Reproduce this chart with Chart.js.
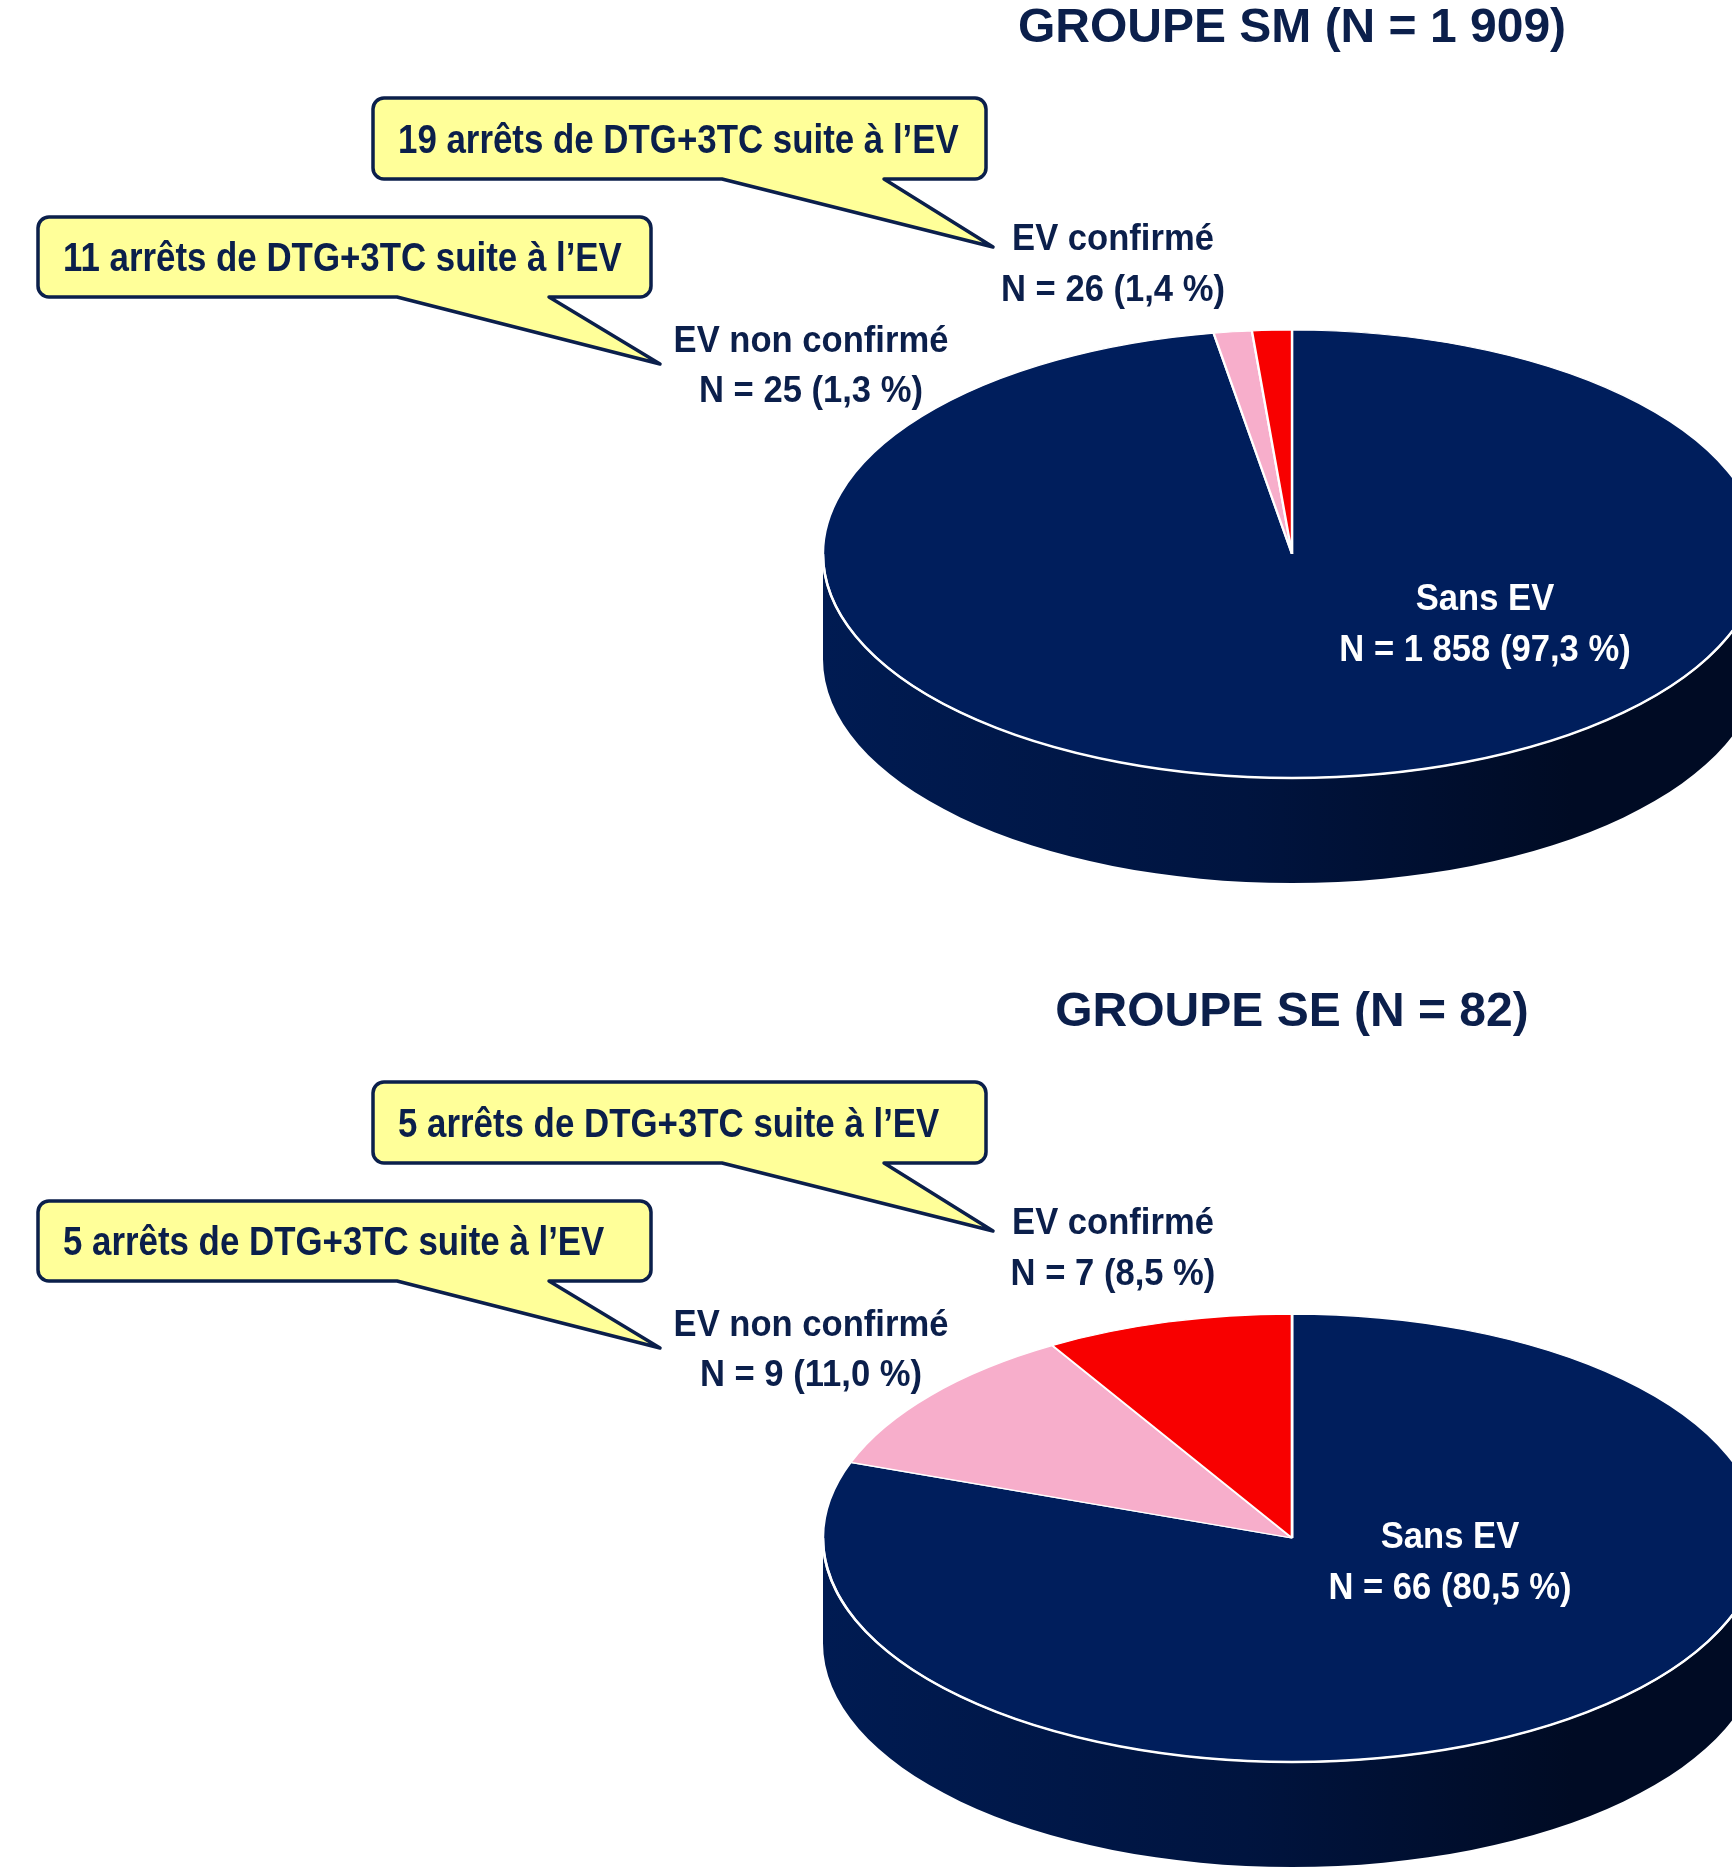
<!DOCTYPE html>
<html>
<head>
    <title>Groupes SM et SE : EV et arrêts de DTG+3TC</title>
    <meta charset="UTF-8">
    <script src="https://cdn.jsdelivr.net/npm/chart.js"></script>
    <style>
        html, body {
            margin: 0;
            padding: 0;
            background: #ffffff;
            overflow: hidden;
        }
        body {
            position: relative;
            width: 1732px;
            height: 1870px;
        }
        canvas {
            position: absolute;
            left: 0;
        }
    </style>
</head>
<body>
    <canvas id="chartSM" width="1732" height="984" style="top:0px"></canvas>
    <canvas id="chartSE" width="1732" height="886" style="top:984px"></canvas>
    <script>
        // data
        const categories = ['Sans EV', 'EV non confirmé', 'EV confirmé'];
        const groupNames = ['SM', 'SE'];
        const valuesSM = [1858, 25, 26];
        const valuesSE = [66, 9, 7];
        // arrêts de DTG+3TC : [EV confirmé, EV non confirmé]
        const arretsSM = [19, 11];
        const arretsSE = [5, 5];

        const sliceColors = ['#001e5c', '#f7aecb', '#f80000'];
        const sideColors = [['#001b52', '#00143f', '#000b24'], ['#c98aa3', '#b57990', '#9d6a7e'], ['#c00000', '#a00000', '#800000']];
        const textDark = '#0b1f4b';
        const font = '"Liberation Sans", Arial, sans-serif';

        // pie geometry on the canvas
        const pie = { cx: 1292, cy: 554, rx: 469, ry: 224, depth: 105 };

        function fmtN(n) {
            return String(n).replace(/\B(?=(\d{3})+(?!\d))/g, ' ');
        }
        function fmtPct(v, total) {
            return (v / total * 100).toFixed(1).replace('.', ',');
        }

        const pie3d = {
            id: 'pie3d',
            beforeDatasetsDraw(chart) {
                const ctx = chart.ctx;
                const arcs = chart.getDatasetMeta(0).data;
                const colors = chart.data.datasets[0].sideColors;
                ctx.save();
                arcs.forEach((arc, i) => {
                    const a0 = Math.max(arc.startAngle, 0);
                    const a1 = Math.min(arc.endAngle, Math.PI);
                    if (a1 <= a0) return;
                    const g = ctx.createLinearGradient(pie.cx - pie.rx, 0, pie.cx + pie.rx, 0);
                    g.addColorStop(0, colors[i][0]);
                    g.addColorStop(0.45, colors[i][1]);
                    g.addColorStop(0.8, colors[i][2]);
                    g.addColorStop(1, colors[i][2]);
                    ctx.fillStyle = g;
                    ctx.beginPath();
                    ctx.ellipse(pie.cx, pie.cy, pie.rx, pie.ry, 0, a0, a1, false);
                    ctx.ellipse(pie.cx, pie.cy + pie.depth, pie.rx, pie.ry, 0, a1, a0, true);
                    ctx.closePath();
                    ctx.fill();
                });
                ctx.restore();

                // squash the flat pie into the top face
                const a = arcs[0];
                ctx.save();
                ctx.translate(pie.cx, pie.cy);
                ctx.scale(pie.rx / a.outerRadius, pie.ry / a.outerRadius);
                ctx.translate(-a.x, -a.y);
            },
            afterDatasetsDraw(chart) {
                const ctx = chart.ctx;
                ctx.restore();
                // white rim between top face and side
                ctx.save();
                ctx.strokeStyle = '#ffffff';
                ctx.lineWidth = 2.5;
                ctx.beginPath();
                ctx.ellipse(pie.cx, pie.cy, pie.rx, pie.ry, 0, 0, Math.PI, false);
                ctx.stroke();
                ctx.restore();
            }
        };

        function narrowText(ctx, text, x, y, size, color, sx, align) {
            ctx.save();
            ctx.font = 'bold ' + size + 'px ' + font;
            ctx.fillStyle = color;
            ctx.textBaseline = 'middle';
            ctx.textAlign = align || 'center';
            ctx.translate(x, y);
            ctx.scale(sx, 1);
            ctx.fillText(text, 0, 0);
            ctx.restore();
        }

        function callout(ctx, box, tail, text) {
            const { x, y, w, h } = box;
            const r = 11;
            ctx.save();
            ctx.beginPath();
            ctx.moveTo(x + r, y);
            ctx.lineTo(x + w - r, y);
            ctx.arcTo(x + w, y, x + w, y + r, r);
            ctx.lineTo(x + w, y + h - r);
            ctx.arcTo(x + w, y + h, x + w - r, y + h, r);
            ctx.lineTo(tail.b1, y + h);
            ctx.lineTo(tail.tx, tail.ty);
            ctx.lineTo(tail.b0, y + h);
            ctx.lineTo(x + r, y + h);
            ctx.arcTo(x, y + h, x, y + h - r, r);
            ctx.lineTo(x, y + r);
            ctx.arcTo(x, y, x + r, y, r);
            ctx.closePath();
            ctx.fillStyle = '#ffff99';
            ctx.fill();
            ctx.lineWidth = 3.5;
            ctx.lineJoin = 'round';
            ctx.strokeStyle = '#0b1f4b';
            ctx.stroke();
            ctx.restore();
            narrowText(ctx, text, x + 25, y + h / 2 + 3, 41, textDark, 0.85, 'left');
        }

        const annotations = {
            id: 'annotations',
            afterDraw(chart) {
                const ctx = chart.ctx;
                const ds = chart.data.datasets[0];
                const vals = ds.data;
                const total = vals.reduce((s, v) => s + v, 0);
                const line = (i) => 'N = ' + fmtN(vals[i]) + ' (' + fmtPct(vals[i], total) + ' %)';

                // title
                ctx.save();
                ctx.font = 'bold 48px ' + font;
                ctx.fillStyle = textDark;
                ctx.textAlign = 'center';
                ctx.textBaseline = 'alphabetic';
                ctx.fillText('GROUPE ' + ds.group + ' (N = ' + fmtN(total) + ')', 1292, 42);
                ctx.restore();

                // callouts
                callout(ctx, { x: 373, y: 98, w: 613, h: 81 }, { b0: 722, b1: 884, tx: 993, ty: 247 },
                    ds.arrets[0] + ' arrêts de DTG+3TC suite à l’EV');
                callout(ctx, { x: 38, y: 217, w: 613, h: 80 }, { b0: 397, b1: 549, tx: 660, ty: 364 },
                    ds.arrets[1] + ' arrêts de DTG+3TC suite à l’EV');

                // slice labels
                narrowText(ctx, categories[2], 1113, 240, 37, textDark, 0.935);
                narrowText(ctx, line(2), 1113, 291, 37, textDark, 0.935);
                narrowText(ctx, categories[1], 811, 342, 37, textDark, 0.935);
                narrowText(ctx, line(1), 811, 392, 37, textDark, 0.935);
                narrowText(ctx, categories[0], ds.mainLabelX, ds.mainLabelY, 37, '#ffffff', 0.935);
                narrowText(ctx, line(0), ds.mainLabelX, ds.mainLabelY + 51, 37, '#ffffff', 0.935);
            }
        };

        function makePie(id, group, values, arrets, mainLabelX, mainLabelY) {
            return new Chart(document.getElementById(id), {
                type: 'pie',
                data: {
                    labels: categories,
                    datasets: [{
                        data: values,
                        backgroundColor: sliceColors,
                        borderColor: '#ffffff',
                        borderWidth: 2.5,
                        clip: false,
                        sideColors: sideColors,
                        group: group,
                        arrets: arrets,
                        mainLabelX: mainLabelX,
                        mainLabelY: mainLabelY
                    }]
                },
                options: {
                    responsive: false,
                    animation: false,
                    events: [],
                    plugins: {
                        legend: { display: false },
                        tooltip: { enabled: false },
                        title: { display: false }
                    }
                },
                plugins: [pie3d, annotations]
            });
        }

        function build() {
            makePie('chartSM', groupNames[0], valuesSM, arretsSM, 1485, 600);
            makePie('chartSE', groupNames[1], valuesSE, arretsSE, 1450, 554);
        }

        if (document.fonts && document.fonts.load) {
            document.fonts.load('bold 40px "Liberation Sans"').then(build, build);
        } else {
            build();
        }
    </script>
</body>
</html>
